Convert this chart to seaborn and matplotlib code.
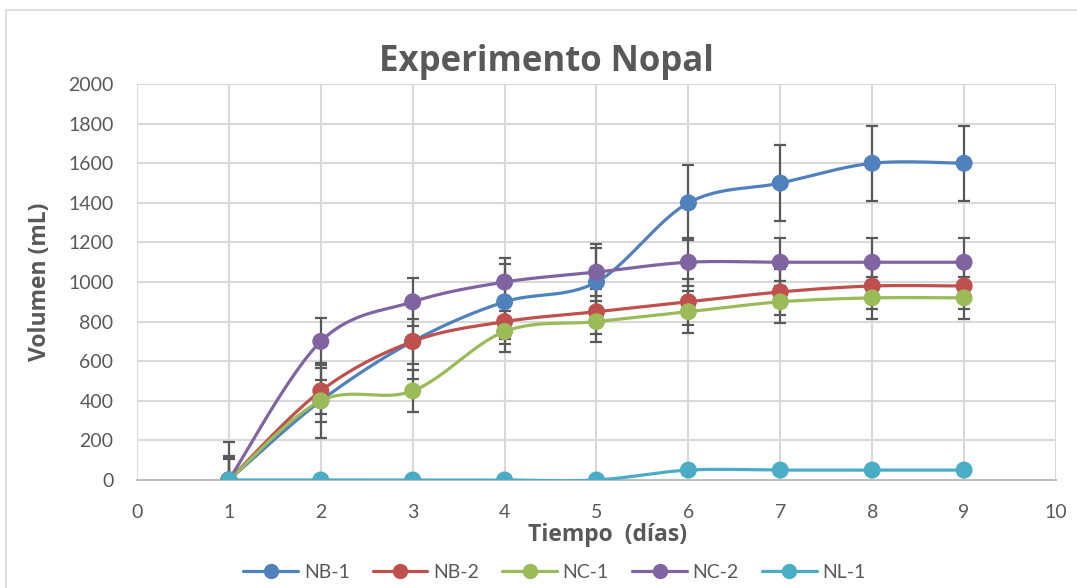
import numpy as np
import matplotlib
matplotlib.use("Agg")
import matplotlib.pyplot as plt
import seaborn as sns
import pandas as pd
from matplotlib.patches import Rectangle

days = [1, 2, 3, 4, 5, 6, 7, 8, 9]
nb1 = [0, 400, 700, 900, 1000, 1400, 1500, 1600, 1600]
nb2 = [0, 450, 700, 800, 850, 900, 950, 980, 980]
nc1 = [0, 400, 450, 750, 800, 850, 900, 920, 920]
nc2 = [0, 700, 900, 1000, 1050, 1100, 1100, 1100, 1100]
nl1 = [0, 0, 0, 0, 0, 50, 50, 50, 50]
series_names = ["NB-1", "NB-2", "NC-1", "NC-2", "NL-1"]
errors = [190, 115, 105, 120, 0]
colors = ["#4F81BD", "#C0504D", "#9BBB59", "#8064A2", "#4BACC6"]
title = "Experimento Nopal"
xlabel = "Tiempo  (días)"
ylabel = "Volumen (mL)"

sns.set_style("white")
plt.rcParams['font.family'] = ['Lato', 'DejaVu Sans']


def smooth(x, y, n=30):
    x = np.asarray(x, float)
    y = np.asarray(y, float)
    px = np.concatenate([[x[0]], x, [x[-1]]])
    py = np.concatenate([[y[0]], y, [y[-1]]])
    xs, ys = [], []
    t = np.linspace(0, 1, n)
    for i in range(1, len(px) - 2):
        p0x, p0y = px[i], py[i]
        p3x, p3y = px[i + 1], py[i + 1]
        c1x = p0x + (px[i + 1] - px[i - 1]) / 6
        c1y = p0y + (py[i + 1] - py[i - 1]) / 6
        c2x = p3x - (px[i + 2] - px[i]) / 6
        c2y = p3y - (py[i + 2] - py[i]) / 6
        bx = (1 - t) ** 3 * p0x + 3 * (1 - t) ** 2 * t * c1x + 3 * (1 - t) * t ** 2 * c2x + t ** 3 * p3x
        by = (1 - t) ** 3 * p0y + 3 * (1 - t) ** 2 * t * c1y + 3 * (1 - t) * t ** 2 * c2y + t ** 3 * p3y
        xs.extend(bx)
        ys.extend(by)
    return np.array(xs), np.array(ys)


fig = plt.figure(figsize=(10.77, 5.88), dpi=100)
ax = fig.add_axes([0.1272, 0.1837, 0.8533, 0.6733])

all_vals = [nb1, nb2, nc1, nc2, nl1]
rows = []
for name, vals in zip(series_names, all_vals):
    for d, v in zip(days, vals):
        rows.append({"day": d, "vol": v, "serie": name})
df = pd.DataFrame(rows)

handles = []
for name, vals, err, col in zip(series_names, all_vals, errors, colors):
    if err > 0:
        ax.errorbar(days, vals, yerr=err, fmt='none', ecolor="#595959",
                    elinewidth=1.6, capsize=4.5, capthick=1.6, zorder=2)
    sx, sy = smooth(days, vals)
    ax.plot(sx, sy, color=col, lw=2.3, zorder=3, solid_capstyle='round')
    h, = ax.plot([], [], color=col, lw=2.3, marker='o', markersize=10, label=name)
    handles.append(h)

sns.scatterplot(data=df, x="day", y="vol", hue="serie", palette=colors,
                hue_order=series_names, s=150, edgecolor='none', ax=ax,
                legend=False, zorder=4)

ax.set_xlim(0, 10)
ax.set_ylim(0, 2000)
ax.set_xticks(range(0, 11))
ax.set_yticks(range(0, 2001, 200))
ax.grid(True, color="#D9D9D9", lw=1.5)
ax.set_axisbelow(True)
for s in ["top", "right", "left"]:
    ax.spines[s].set_visible(False)
ax.spines["bottom"].set_color("#BFBFBF")
ax.spines["bottom"].set_linewidth(1.5)
ax.tick_params(axis='both', length=0, labelsize=14, colors="#595959")
ax.tick_params(axis='x', pad=17)
ax.tick_params(axis='y', pad=17)

ax.set_xlabel(xlabel, fontsize=16.5, fontweight='bold', color="#595959",
              family=['Open Sans', 'DejaVu Sans'])
ax.set_ylabel(ylabel, fontsize=16.5, fontweight='bold', color="#595959",
              family=['Open Sans', 'DejaVu Sans'])
ax.xaxis.set_label_coords(0.5115, -0.139)
ax.xaxis.label.set_va('center')
ax.yaxis.set_label_coords(-0.1055, 0.5)
ax.yaxis.label.set_va('center')
fig.text(0.507, 0.895, title, ha='center', va='center', fontsize=25,
         fontweight='bold', color="#595959", family=['Open Sans', 'DejaVu Sans'])

fig.legend(handles=handles, loc='center', bbox_to_anchor=(0.515, 0.026), ncol=5,
           frameon=False, fontsize=14, handlelength=2.8, columnspacing=1.2,
           handletextpad=0.3, labelcolor="#595959")

fig.patches.append(Rectangle((0.006, -0.01), 1.2, 0.993, transform=fig.transFigure,
                             fill=False, edgecolor="#D9D9D9", lw=1.2))

fig.savefig("out.png", dpi=100)
